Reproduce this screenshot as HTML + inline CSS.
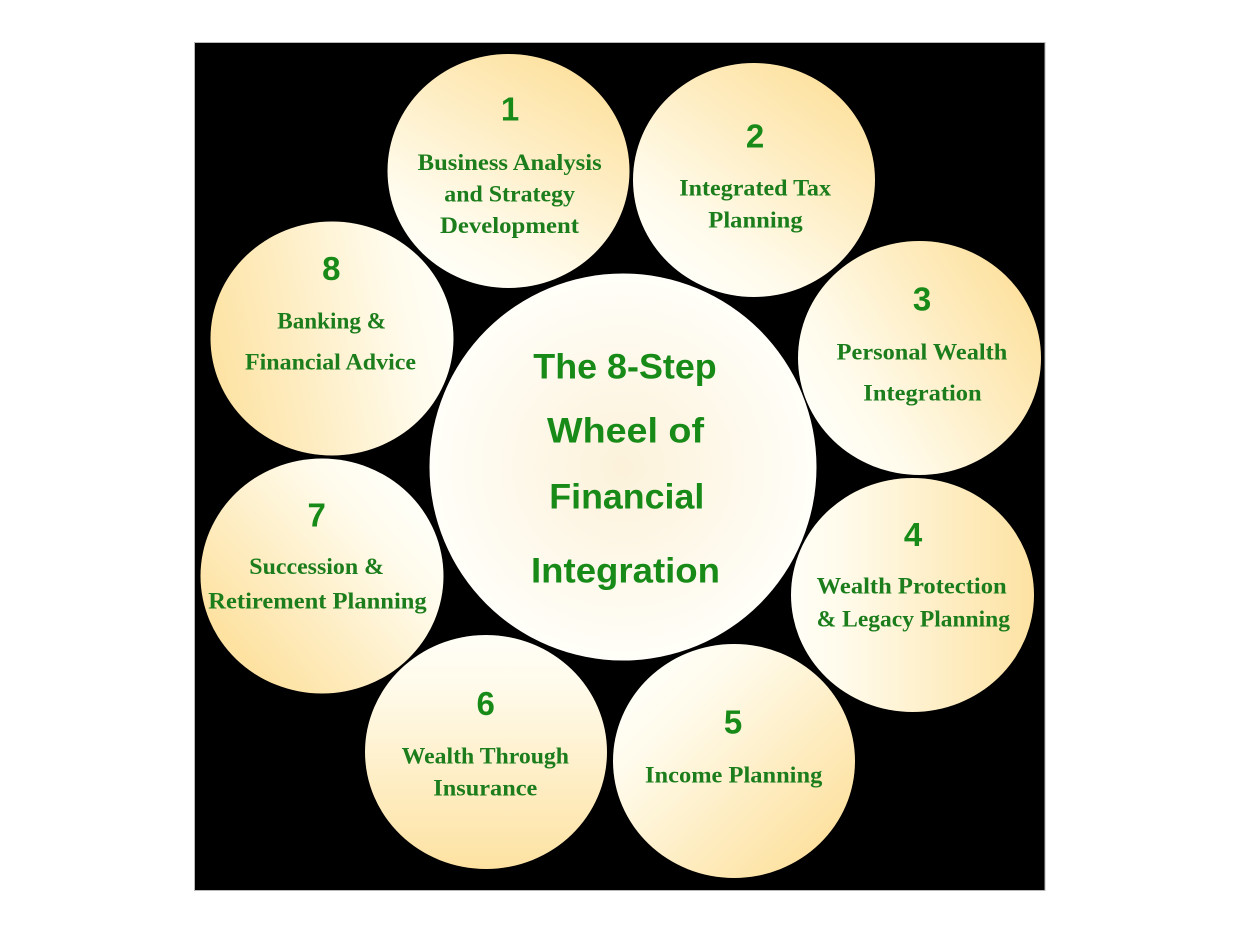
<!DOCTYPE html>
<html>
<head>
<meta charset="utf-8">
<style>
html,body{margin:0;padding:0;background:#fff;}
svg{display:block;}
.lbl{font-family:"Liberation Serif",serif;font-weight:bold;font-size:23px;fill:#1b7d1b;}
.num{font-family:"Liberation Sans",sans-serif;font-weight:bold;font-size:33px;fill:#178a17;text-anchor:middle;}
.ttl{font-family:"Liberation Sans",sans-serif;font-weight:bold;font-size:35px;fill:#178a17;}
</style>
</head>
<body>
<svg width="1240" height="932" viewBox="0 0 1240 932" xmlns="http://www.w3.org/2000/svg">
<defs>
  <linearGradient id="g1" x1="0.25" y1="0.93" x2="0.75" y2="0.07"><stop offset="0" stop-color="#fffef6"/><stop offset="0.2" stop-color="#fffbec"/><stop offset="1" stop-color="#fde2a2"/></linearGradient>
  <linearGradient id="g2" x1="0.2" y1="0.9" x2="0.8" y2="0.1"><stop offset="0" stop-color="#fffef6"/><stop offset="0.2" stop-color="#fffbec"/><stop offset="1" stop-color="#fde2a2"/></linearGradient>
  <linearGradient id="g3" x1="0.08" y1="0.75" x2="0.92" y2="0.25"><stop offset="0" stop-color="#fffef6"/><stop offset="0.2" stop-color="#fffbec"/><stop offset="1" stop-color="#fde2a2"/></linearGradient>
  <linearGradient id="g4" x1="0" y1="0.5" x2="1" y2="0.5"><stop offset="0" stop-color="#fffef6"/><stop offset="0.2" stop-color="#fffbec"/><stop offset="1" stop-color="#fde2a2"/></linearGradient>
  <linearGradient id="g5" x1="0.15" y1="0.15" x2="0.85" y2="0.85"><stop offset="0" stop-color="#fffef6"/><stop offset="0.2" stop-color="#fffbec"/><stop offset="1" stop-color="#fde2a2"/></linearGradient>
  <linearGradient id="g6" x1="0.5" y1="0" x2="0.5" y2="1"><stop offset="0" stop-color="#fffef6"/><stop offset="0.2" stop-color="#fffbec"/><stop offset="1" stop-color="#fde2a2"/></linearGradient>
  <linearGradient id="g7" x1="0.85" y1="0.2" x2="0.15" y2="0.8"><stop offset="0" stop-color="#fffef6"/><stop offset="0.2" stop-color="#fffbec"/><stop offset="1" stop-color="#fde2a2"/></linearGradient>
  <linearGradient id="g8" x1="1" y1="0.4" x2="0" y2="0.6"><stop offset="0" stop-color="#fffef6"/><stop offset="0.2" stop-color="#fffbec"/><stop offset="1" stop-color="#fde2a2"/></linearGradient>
  <radialGradient id="gc" cx="0.5" cy="0.5" r="0.5"><stop offset="0" stop-color="#fcf2da"/><stop offset="0.6" stop-color="#fef9ec"/><stop offset="1" stop-color="#fffef8"/></radialGradient>
</defs>

<rect x="194.5" y="42.5" width="850.5" height="848" fill="#000" stroke="#b8b8b8" stroke-width="1"/>

<ellipse cx="508.5" cy="171" rx="121" ry="117" fill="url(#g1)"/>
<ellipse cx="754" cy="180" rx="121" ry="117" fill="url(#g2)"/>
<ellipse cx="919.5" cy="358" rx="121.5" ry="117" fill="url(#g3)"/>
<ellipse cx="912.5" cy="595" rx="121.5" ry="117" fill="url(#g4)"/>
<ellipse cx="734" cy="761" rx="121" ry="117" fill="url(#g5)"/>
<ellipse cx="486" cy="752" rx="121" ry="117" fill="url(#g6)"/>
<ellipse cx="322" cy="576" rx="121.5" ry="117.5" fill="url(#g7)"/>
<ellipse cx="332" cy="338.5" rx="121.5" ry="117" fill="url(#g8)"/>
<circle cx="623" cy="467" r="193.5" fill="url(#gc)"/>

<text class="ttl" x="533.3" y="378.3" textLength="183.4" lengthAdjust="spacingAndGlyphs">The 8-Step</text>
<text class="ttl" x="547" y="442.3" textLength="157" lengthAdjust="spacingAndGlyphs">Wheel of</text>
<text class="ttl" x="549.3" y="508.3" textLength="155" lengthAdjust="spacingAndGlyphs">Financial</text>
<text class="ttl" x="531" y="582.7" textLength="189" lengthAdjust="spacingAndGlyphs">Integration</text>

<text class="num" x="510" y="120.7">1</text>
<text class="num" x="755" y="147.3">2</text>
<text class="num" x="922" y="310.7">3</text>
<text class="num" x="913" y="546">4</text>
<text class="num" x="733" y="733.3">5</text>
<text class="num" x="485.7" y="715">6</text>
<text class="num" x="316.7" y="526.7">7</text>
<text class="num" x="331.3" y="280">8</text>

<text class="lbl" x="417.7" y="170" textLength="184" lengthAdjust="spacingAndGlyphs">Business Analysis</text>
<text class="lbl" x="444.3" y="201.7" textLength="130.7" lengthAdjust="spacingAndGlyphs">and Strategy</text>
<text class="lbl" x="440" y="233" textLength="139" lengthAdjust="spacingAndGlyphs">Development</text>

<text class="lbl" x="679.3" y="195.7" textLength="151.7" lengthAdjust="spacingAndGlyphs">Integrated Tax</text>
<text class="lbl" x="708.3" y="227.3" textLength="94.4" lengthAdjust="spacingAndGlyphs">Planning</text>

<text class="lbl" x="836.7" y="359.3" textLength="170.6" lengthAdjust="spacingAndGlyphs">Personal Wealth</text>
<text class="lbl" x="863.3" y="400.7" textLength="118.4" lengthAdjust="spacingAndGlyphs">Integration</text>

<text class="lbl" x="816.7" y="593.3" textLength="190" lengthAdjust="spacingAndGlyphs">Wealth Protection</text>
<text class="lbl" x="816.7" y="626.7" textLength="193.3" lengthAdjust="spacingAndGlyphs">&amp; Legacy Planning</text>

<text class="lbl" x="645" y="782.7" textLength="177.3" lengthAdjust="spacingAndGlyphs">Income Planning</text>

<text class="lbl" x="401.7" y="763.3" textLength="167.3" lengthAdjust="spacingAndGlyphs">Wealth Through</text>
<text class="lbl" x="433.3" y="795.7" textLength="104" lengthAdjust="spacingAndGlyphs">Insurance</text>

<text class="lbl" x="249.3" y="574" textLength="134.7" lengthAdjust="spacingAndGlyphs">Succession &amp;</text>
<text class="lbl" x="208.3" y="608.3" textLength="218.4" lengthAdjust="spacingAndGlyphs">Retirement Planning</text>

<text class="lbl" x="277.3" y="328.3" textLength="108.7" lengthAdjust="spacingAndGlyphs">Banking &amp;</text>
<text class="lbl" x="245" y="369.3" textLength="171" lengthAdjust="spacingAndGlyphs">Financial Advice</text>
</svg>
</body>
</html>
